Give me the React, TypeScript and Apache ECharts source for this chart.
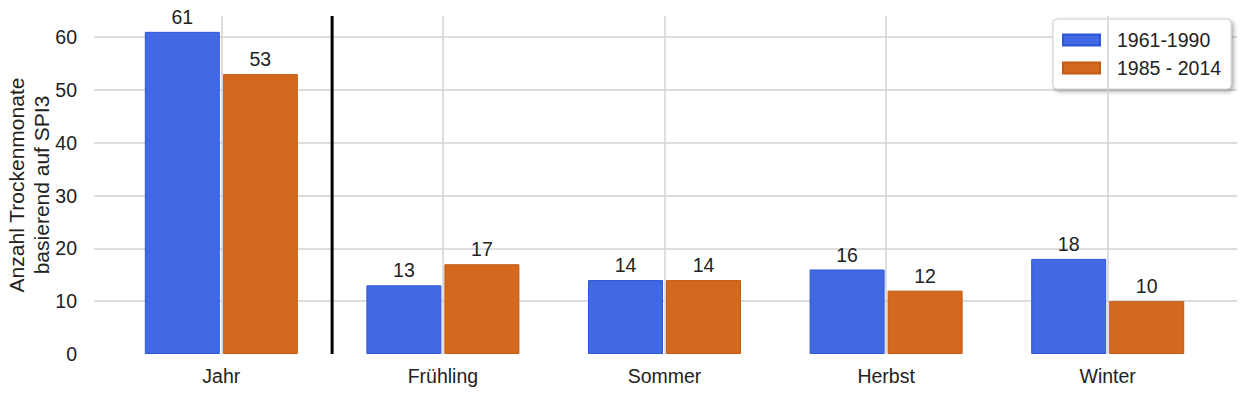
import React, { useEffect, useRef } from "react";
import * as echarts from "echarts";

const categories = ["Jahr", "Frühling", "Sommer", "Herbst", "Winter"];
const seriesNames = ["1961-1990", "1985 - 2014"];
const values1961 = [61, 13, 14, 16, 18];
const values1985 = [53, 17, 14, 12, 10];
const yMin = 0;
const yMax = 64;
const yInterval = 10;
// separator line sits at the boundary after the first category ("Jahr")
const separatorAfterIndex = 1;

const FONT = "'Liberation Sans', Arial, sans-serif";
const FS = 19.5;

export default function App() {
  const ref = useRef<HTMLDivElement>(null);

  useEffect(() => {
    if (!ref.current) return;
    const chart = echarts.init(ref.current, null, { renderer: "svg" });
    const labelStyle = {
      show: true,
      position: "top" as const,
      distance: 5,
      color: "#222",
      fontSize: FS,
      fontFamily: FONT,
    };
    chart.setOption({
      animation: false,
      backgroundColor: "#ffffff",
      textStyle: { fontFamily: FONT },
      legend: {
        data: seriesNames,
        orient: "vertical",
        left: 1053,
        top: 19,
        padding: [11, 10, 11, 9],
        itemGap: 8,
        itemWidth: 37,
        itemHeight: 11,
        icon: "rect",
        backgroundColor: "#ffffff",
        borderColor: "#cccccc",
        borderWidth: 1,
        borderRadius: 4,
        shadowColor: "rgba(0,0,0,0.35)",
        shadowBlur: 4,
        shadowOffsetX: 2,
        shadowOffsetY: 2,
        textStyle: {
          fontSize: FS,
          color: "#222",
          fontFamily: FONT,
          padding: [0, 0, 0, 12],
        },
      },
      grid: [
        { left: 94, right: 13, top: 16, bottom: 41, outerBoundsMode: "none", containLabel: false },
        { left: 110.5, right: 31.5, top: 16, bottom: 41, outerBoundsMode: "none", containLabel: false },
      ],
      xAxis: [
        { type: "value", gridIndex: 0, show: false, min: 0, max: 1 },
        {
          type: "category",
          gridIndex: 1,
          data: categories,
          axisLine: { show: false },
          axisTick: { show: false },
          splitLine: { show: false },
          axisLabel: {
            color: "#222",
            fontSize: FS,
            fontFamily: FONT,
            margin: 12,
          },
        },
        {
          type: "value",
          gridIndex: 1,
          show: false,
          min: 0,
          max: categories.length,
        },
      ],
      yAxis: [
        {
          type: "value",
          gridIndex: 0,
          min: yMin,
          max: yMax,
          interval: yInterval,
          axisLine: { show: false },
          axisTick: { show: false },
          axisLabel: {
            color: "#222",
            fontSize: FS,
            fontFamily: FONT,
            margin: 17,
            showMaxLabel: false,
          },
          splitLine: {
            show: true,
            showMinLine: false,
            showMaxLine: false,
            lineStyle: { color: "#d2d2d2", width: 1.5 },
          },
          name: "Anzahl Trockenmonate\nbasierend auf SPI3",
          nameLocation: "middle",
          nameMoveOverlap: false,
          nameGap: 40,
          nameTextStyle: {
            color: "#222",
            fontSize: 21,
            lineHeight: 25,
            fontFamily: FONT,
          },
        },
        {
          type: "value",
          gridIndex: 1,
          min: yMin,
          max: yMax,
          interval: yInterval,
          show: false,
        },
      ],
      series: [
        {
          name: "vgrid",
          type: "line",
          xAxisIndex: 1,
          yAxisIndex: 1,
          data: [],
          z: 1,
          silent: true,
          markLine: {
            silent: true,
            symbol: "none",
            label: { show: false },
            lineStyle: { color: "#d2d2d2", width: 1.5, type: "solid" },
            data: categories.map((c) => ({ xAxis: c })),
          },
        },
        {
          name: seriesNames[0],
          type: "bar",
          xAxisIndex: 1,
          yAxisIndex: 1,
          data: values1961,
          barWidth: 75,
          barGap: "4%",
          z: 2,
          itemStyle: {
            color: "#4169E1",
            borderColor: "#2f56d6",
            borderWidth: 1,
          },
          label: labelStyle,
        },
        {
          name: seriesNames[1],
          type: "bar",
          xAxisIndex: 1,
          yAxisIndex: 1,
          data: values1985,
          barWidth: 75,
          barGap: "4%",
          z: 2,
          itemStyle: {
            color: "#D2691E",
            borderColor: "#c45a12",
            borderWidth: 1,
          },
          label: labelStyle,
        },
        {
          name: "separator",
          type: "line",
          xAxisIndex: 2,
          yAxisIndex: 1,
          data: [
            [separatorAfterIndex, yMin],
            [separatorAfterIndex, yMax],
          ],
          symbol: "none",
          silent: true,
          z: 3,
          lineStyle: { color: "#000000", width: 3 },
        },
      ],
    });
    return () => chart.dispose();
  }, []);

  return (
    <div
      ref={ref}
      style={{ position: "fixed", left: 0, top: 0, width: 1250, height: 395 }}
    />
  );
}
